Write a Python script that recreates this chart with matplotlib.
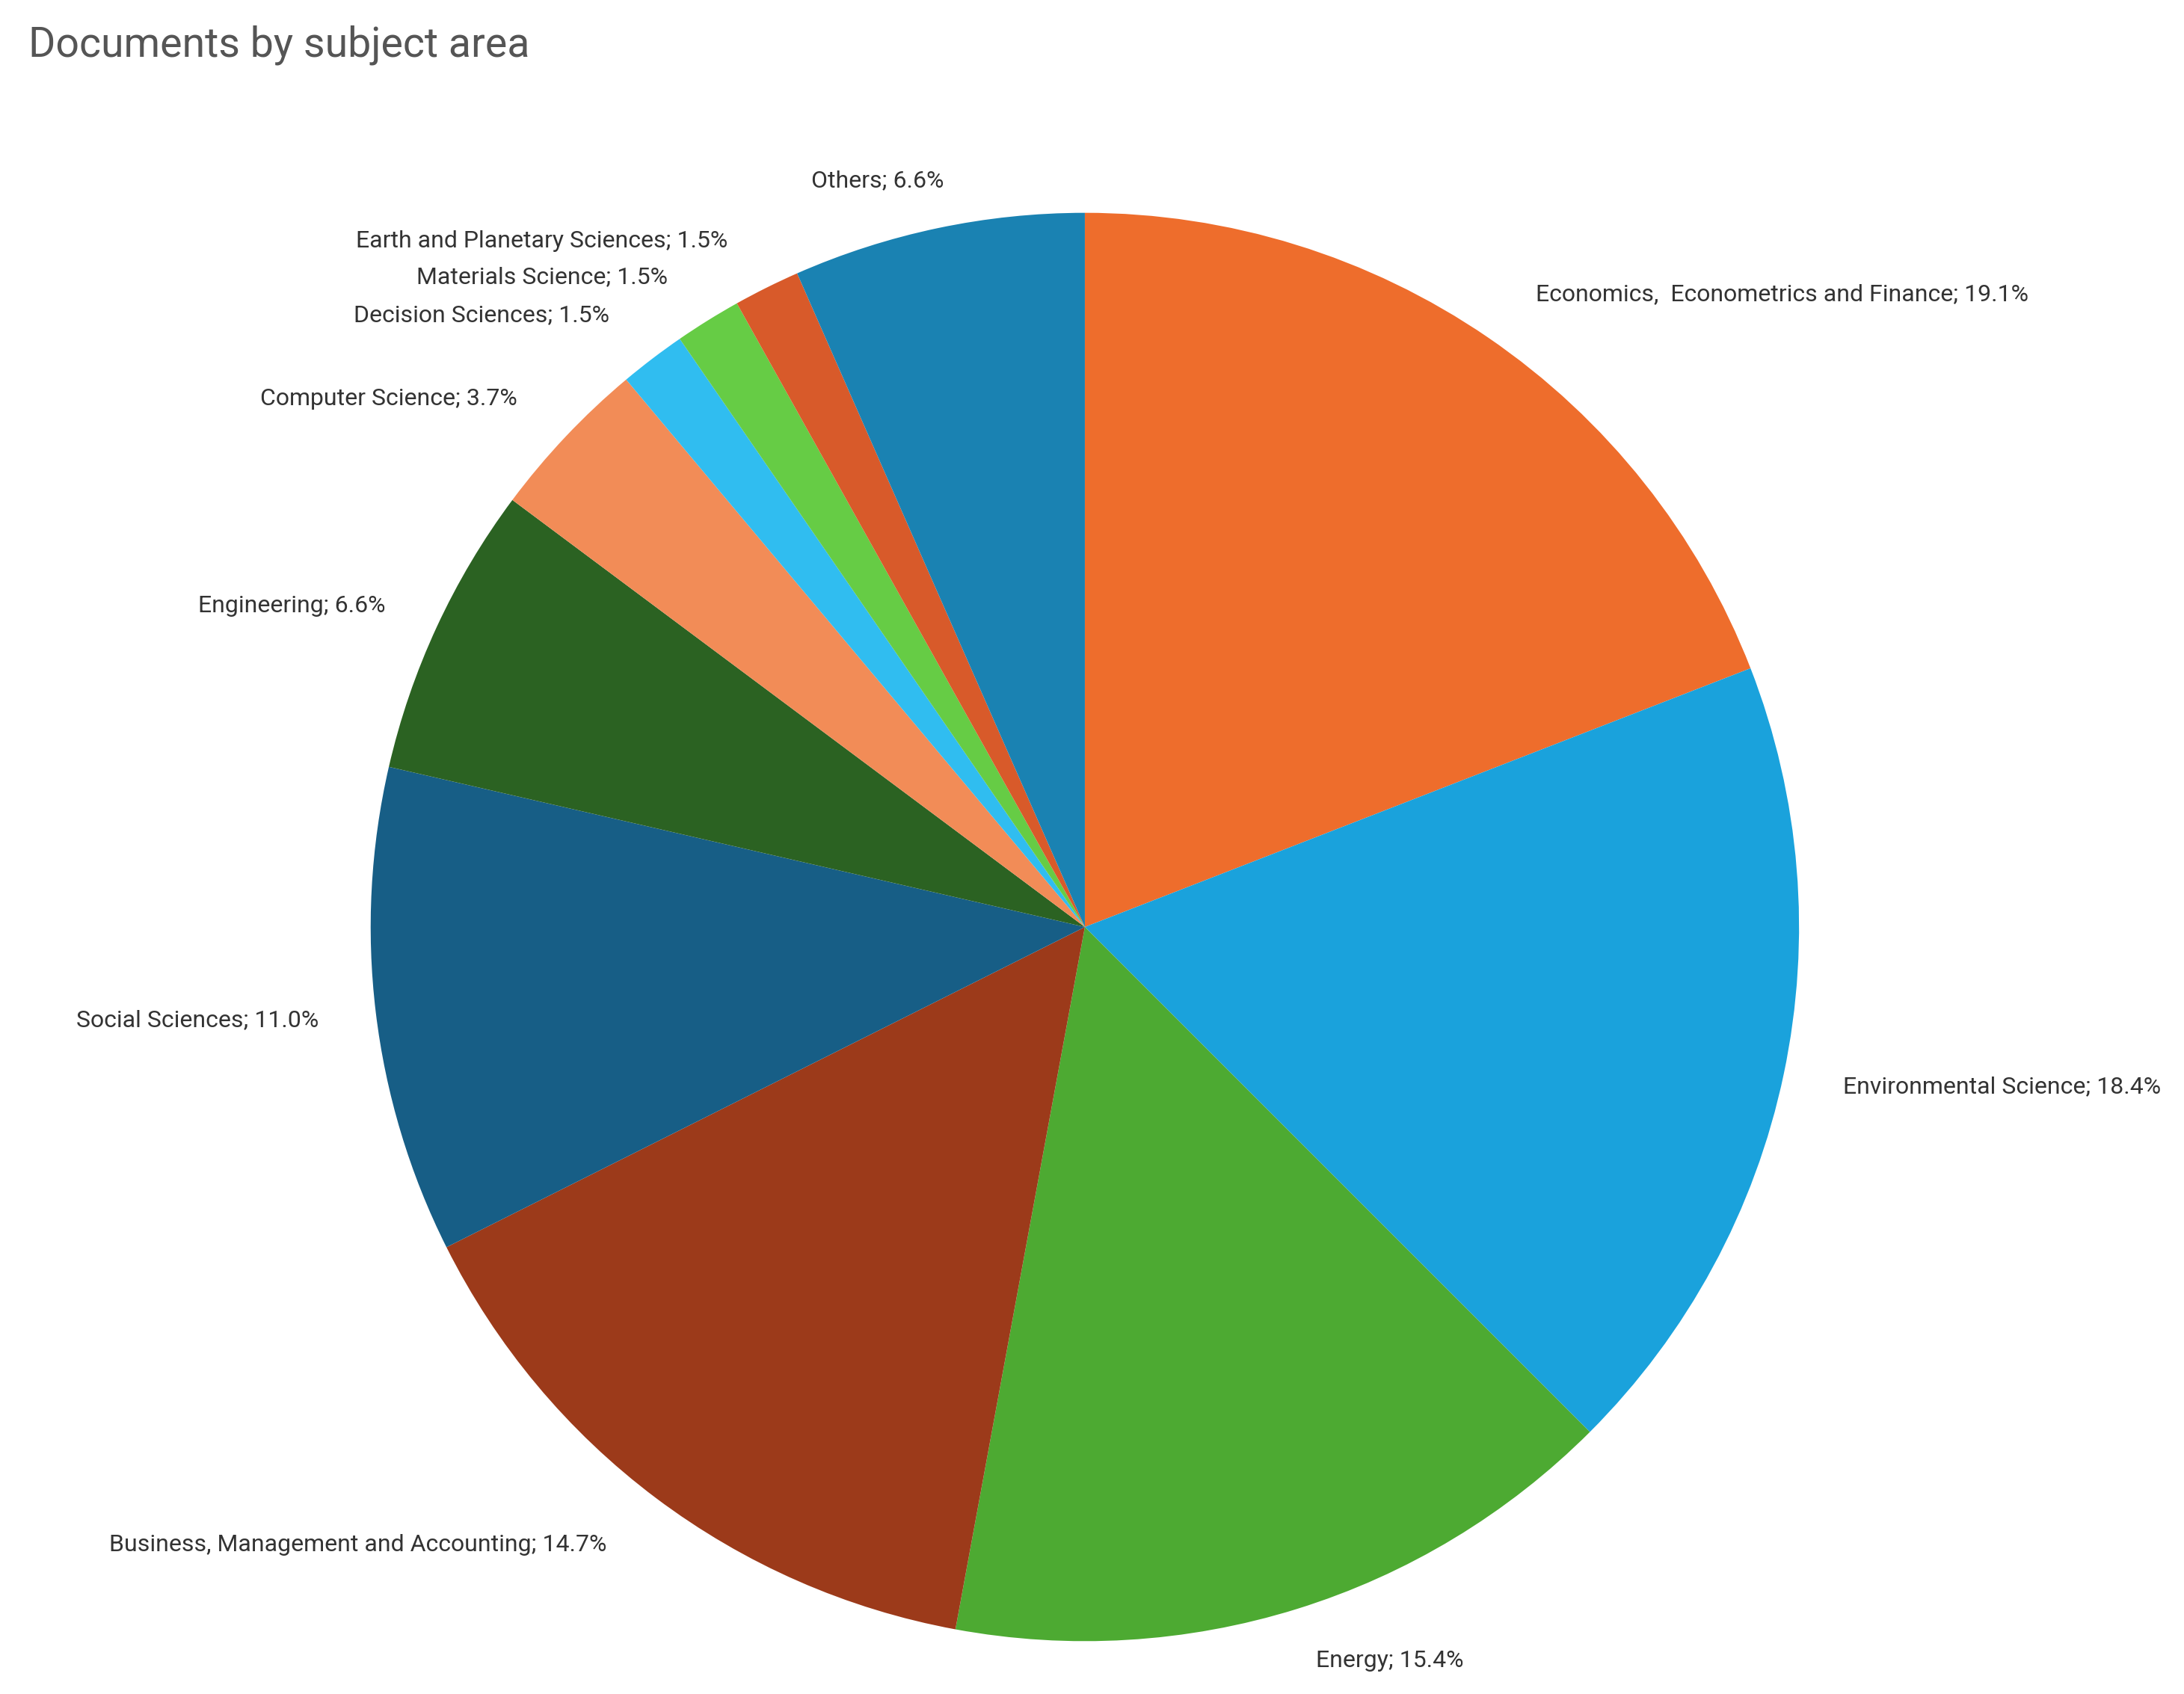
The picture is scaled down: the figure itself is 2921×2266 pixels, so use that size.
import matplotlib
matplotlib.use("Agg")
import matplotlib.pyplot as plt

categories = ["Economics,  Econometrics and Finance", "Environmental Science", "Energy",
              "Business, Management and Accounting", "Social Sciences", "Engineering",
              "Computer Science", "Decision Sciences", "Materials Science",
              "Earth and Planetary Sciences", "Others"]
values = [19.1, 18.4, 15.4, 14.7, 11.0, 6.6, 3.7, 1.5, 1.5, 1.5, 6.6]
colors = ["#EE6D2C", "#1AA2DC", "#4DAA32", "#9C3A1A", "#175E86", "#2B6222",
          "#F28C57", "#30BDF0", "#66CC45", "#D85A2A", "#1A82B2"]
# label centre positions in pie-radius units (layout)
label_pos = [(0.976, 0.886), (1.284, -0.224), (0.427, -1.027), (-1.018, -0.865),
             (-1.243, -0.13), (-1.11, 0.45), (-0.975, 0.74), (-0.845, 0.857),
             (-0.76, 0.91), (-0.76, 0.96), (-0.29, 1.045)]

plt.rcParams['font.family'] = ['Roboto', 'DejaVu Sans']
fig = plt.figure(figsize=(29.21, 22.66), dpi=100)
ax = fig.add_axes([0, 0, 1, 1])
ax.pie(values, colors=colors, startangle=90, counterclock=False, radius=1.0,
       wedgeprops=dict(linewidth=0))
ax.set_xlim(-1.519, 1.539)
ax.set_ylim(-1.074, 1.298)
ax.set_aspect('auto')
ax.axis('off')
for c, v, (x, y) in zip(categories, values, label_pos):
    ax.text(x, y, f"{c}; {v:.1f}%", ha='center', va='center', fontsize=23, color='#333333')
fig.text(0.013, 0.985, "Documents by subject area", ha='left', va='top', fontsize=40, color='#555555')
fig.savefig("out.png", dpi=100)
